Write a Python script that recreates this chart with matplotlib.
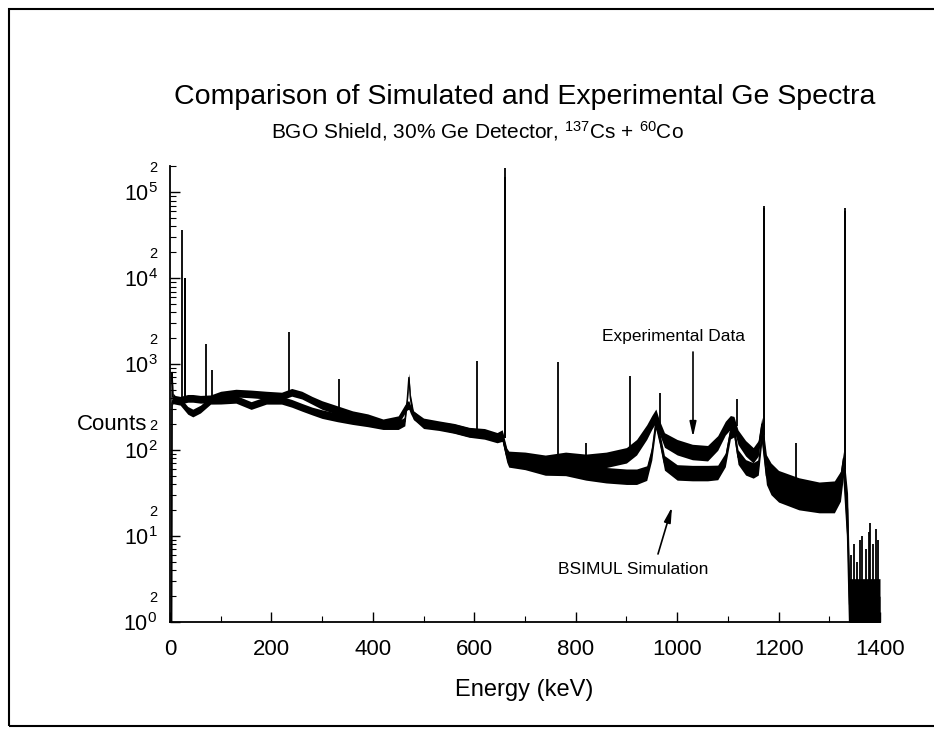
import numpy as np
import matplotlib.pyplot as plt
from matplotlib.ticker import MultipleLocator, LogLocator, FuncFormatter
from matplotlib.patches import Rectangle

plt.rcParams['font.family'] = ['Liberation Sans', 'DejaVu Sans']
plt.rcParams['mathtext.fontset'] = 'custom'
plt.rcParams['mathtext.rm'] = 'Liberation Sans'
plt.rcParams['mathtext.it'] = 'Liberation Sans:italic'
plt.rcParams['mathtext.default'] = 'regular'

# continuum (keV, counts)
energy = [0, 3, 4, 6, 10, 20, 35, 45, 60, 80, 100, 130, 160, 190, 220, 240, 260, 280,
          300, 330, 360, 390, 420, 450, 463, 468, 471, 474, 480, 500, 530, 560, 590,
          620, 645, 655, 664, 668, 700, 740, 780, 820, 860, 900, 920, 940, 950, 958,
          965, 975, 1000, 1030, 1060, 1080, 1095, 1105, 1112, 1120, 1135, 1150, 1160,
          1167, 1176, 1185, 1200, 1240, 1280, 1310, 1322, 1328, 1336, 1340, 1400]
exp_counts = [1, 1, 800, 420, 390, 380, 400, 400, 390, 395, 436, 460, 450, 436, 425, 470,
              436, 380, 334, 292, 255, 235, 205, 223, 300, 330, 334, 300, 255, 210, 195,
              180, 162, 157, 141, 150, 90, 80, 78, 72, 77, 73, 77, 87, 108, 162, 210, 250,
              185, 131, 108, 95, 92, 121, 180, 210, 205, 141, 105, 87, 105, 200, 70, 55,
              45, 37, 33, 34, 45, 80, 20, 1.6, 1.6]
sim_counts = [1, 1, 350, 380, 380, 370, 290, 270, 300, 380, 381, 390, 330, 380, 380, 350,
              315, 285, 262, 240, 223, 210, 195, 195, 215, 400, 700, 400, 255, 200, 190,
              178, 160, 152, 138, 145, 85, 77, 72, 62, 62, 55, 51, 49, 49, 54, 92, 210,
              141, 71, 55, 54, 54, 55, 77, 162, 171, 83, 63, 58, 63, 150, 50, 39,
              32, 26, 24, 24, 32, 60, 10, 1, 1]
# half width of the noise band, in decades
spread = [0.03, 0.03, 0.03, 0.04, 0.045, 0.045, 0.045, 0.045, 0.045, 0.045, 0.045, 0.045,
          0.045, 0.045, 0.045, 0.045, 0.045, 0.045, 0.05, 0.05, 0.05, 0.05, 0.05, 0.05,
          0.05, 0.05, 0.05, 0.05, 0.05, 0.05, 0.05, 0.055, 0.055, 0.055, 0.055, 0.06,
          0.07, 0.085, 0.085, 0.085, 0.09, 0.09, 0.09, 0.09, 0.09, 0.085, 0.08, 0.08,
          0.08, 0.085, 0.09, 0.09, 0.09, 0.085, 0.08, 0.08, 0.08, 0.085, 0.09, 0.09,
          0.09, 0.08, 0.1, 0.11, 0.11, 0.11, 0.11, 0.11, 0.1, 0.08, 0.2, 0.3, 0.3]

# sharp lines (keV, base, top)
exp_peak_e = [24, 29, 71, 83, 235, 333, 605, 660, 765, 820, 907, 966, 1118, 1171, 1235,
              1331, 1342, 1348, 1355, 1360, 1365, 1372, 1378, 1381, 1386, 1392, 1397]
exp_peak_base = [380, 380, 390, 390, 440, 290, 160, 140, 75, 73, 90, 185, 190, 150, 37,
                 60, 1.5, 1.5, 1.5, 1.5, 1.5, 1.5, 1.5, 1.5, 1.5, 1.5, 1.5]
exp_peak_top = [36000, 10000, 1700, 850, 2350, 670, 1080, 190000, 1050, 120, 720, 460,
                390, 70000, 120, 65000, 6, 8, 5, 9, 10, 7, 11, 14, 8, 12, 9]
sim_peak_e = [29, 660, 1171, 1331]
sim_peak_base = [370, 138, 120, 50]
sim_peak_top = [10000, 150000, 65000, 60000]

W, H = 934, 730
fig = plt.figure(figsize=(W / 100, H / 100), dpi=100)
ax = fig.add_axes([170 / W, 108 / H, 710 / W, 456 / H])

for c in (exp_counts, sim_counts):
    c = np.array(c, dtype=float)
    s = 10 ** np.array(spread)
    ax.fill_between(energy, c / s, c * s, color='black', lw=0)
    ax.plot(energy, c, color='black', lw=1)

ax.vlines(exp_peak_e, exp_peak_base, exp_peak_top, color='black', lw=1.3)
ax.vlines(sim_peak_e, sim_peak_base, sim_peak_top, color='black', lw=1.3)

ax.set_yscale('log')
ax.set_xlim(0, 1400)
ax.set_ylim(1, 2.02e5)
for side in ('top', 'right'):
    ax.spines[side].set_visible(False)
for side in ('left', 'bottom'):
    ax.spines[side].set_linewidth(1.3)

ax.xaxis.set_major_locator(MultipleLocator(200))
ax.xaxis.set_minor_locator(MultipleLocator(100))
ax.yaxis.set_major_locator(LogLocator(base=10, numticks=12))
ax.yaxis.set_minor_locator(LogLocator(base=10, subs=np.arange(2, 10), numticks=12))
ax.yaxis.set_major_formatter(FuncFormatter(
    lambda v, p: '$10^{%d}$' % int(round(np.log10(v)))))
ax.yaxis.set_minor_formatter(FuncFormatter(
    lambda v, p: '2' if abs(v / 10 ** np.floor(np.log10(v) + 1e-9) - 2) < 0.01 else ''))

ax.tick_params(which='major', direction='in', length=7, width=1)
ax.tick_params(which='minor', direction='in', length=4, width=0.8)
ax.tick_params(axis='x', which='major', labelsize=16, pad=12)
ax.tick_params(axis='y', which='major', labelsize=15.5, pad=9)
ax.tick_params(axis='y', which='minor', labelsize=10.5, pad=9)


def fx(x):
    return x / W


def fy(y):
    return 1 - y / H


fig.text(fx(525), fy(97), 'Comparison of Simulated and Experimental Ge Spectra',
         ha='center', va='center', fontsize=20.5)
fig.text(fx(477), fy(131), r'BGO Shield, 30% Ge Detector, $^{137}$Cs + $^{60}$Co',
         ha='center', va='center', fontsize=15)
fig.text(fx(77), fy(425), 'Counts', ha='left', va='center', fontsize=16)
fig.text(fx(524), fy(690), 'Energy (keV)', ha='center', va='center', fontsize=17)

fig.text(fx(673), fy(336), 'Experimental Data', ha='center', va='center', fontsize=12.5)
fig.text(fx(633), fy(570), 'BSIMUL Simulation', ha='center', va='center', fontsize=12.5)
arrow = dict(arrowstyle='-|>,head_length=0.9,head_width=0.2', color='black', lw=1.2,
             shrinkA=0, shrinkB=0)
ax.annotate('', xy=(fx(693), fy(437)), xytext=(fx(693), fy(352)),
            xycoords='figure fraction', textcoords='figure fraction', arrowprops=arrow)
ax.annotate('', xy=(fx(672), fy(507)), xytext=(fx(658), fy(554)),
            xycoords='figure fraction', textcoords='figure fraction', arrowprops=arrow)

fig.add_artist(Rectangle((fx(9), fy(726)), 1.0, fy(9) - fy(726), transform=fig.transFigure,
                         fill=False, lw=1.5, color='black'))

fig.savefig('out.png', dpi=100)
